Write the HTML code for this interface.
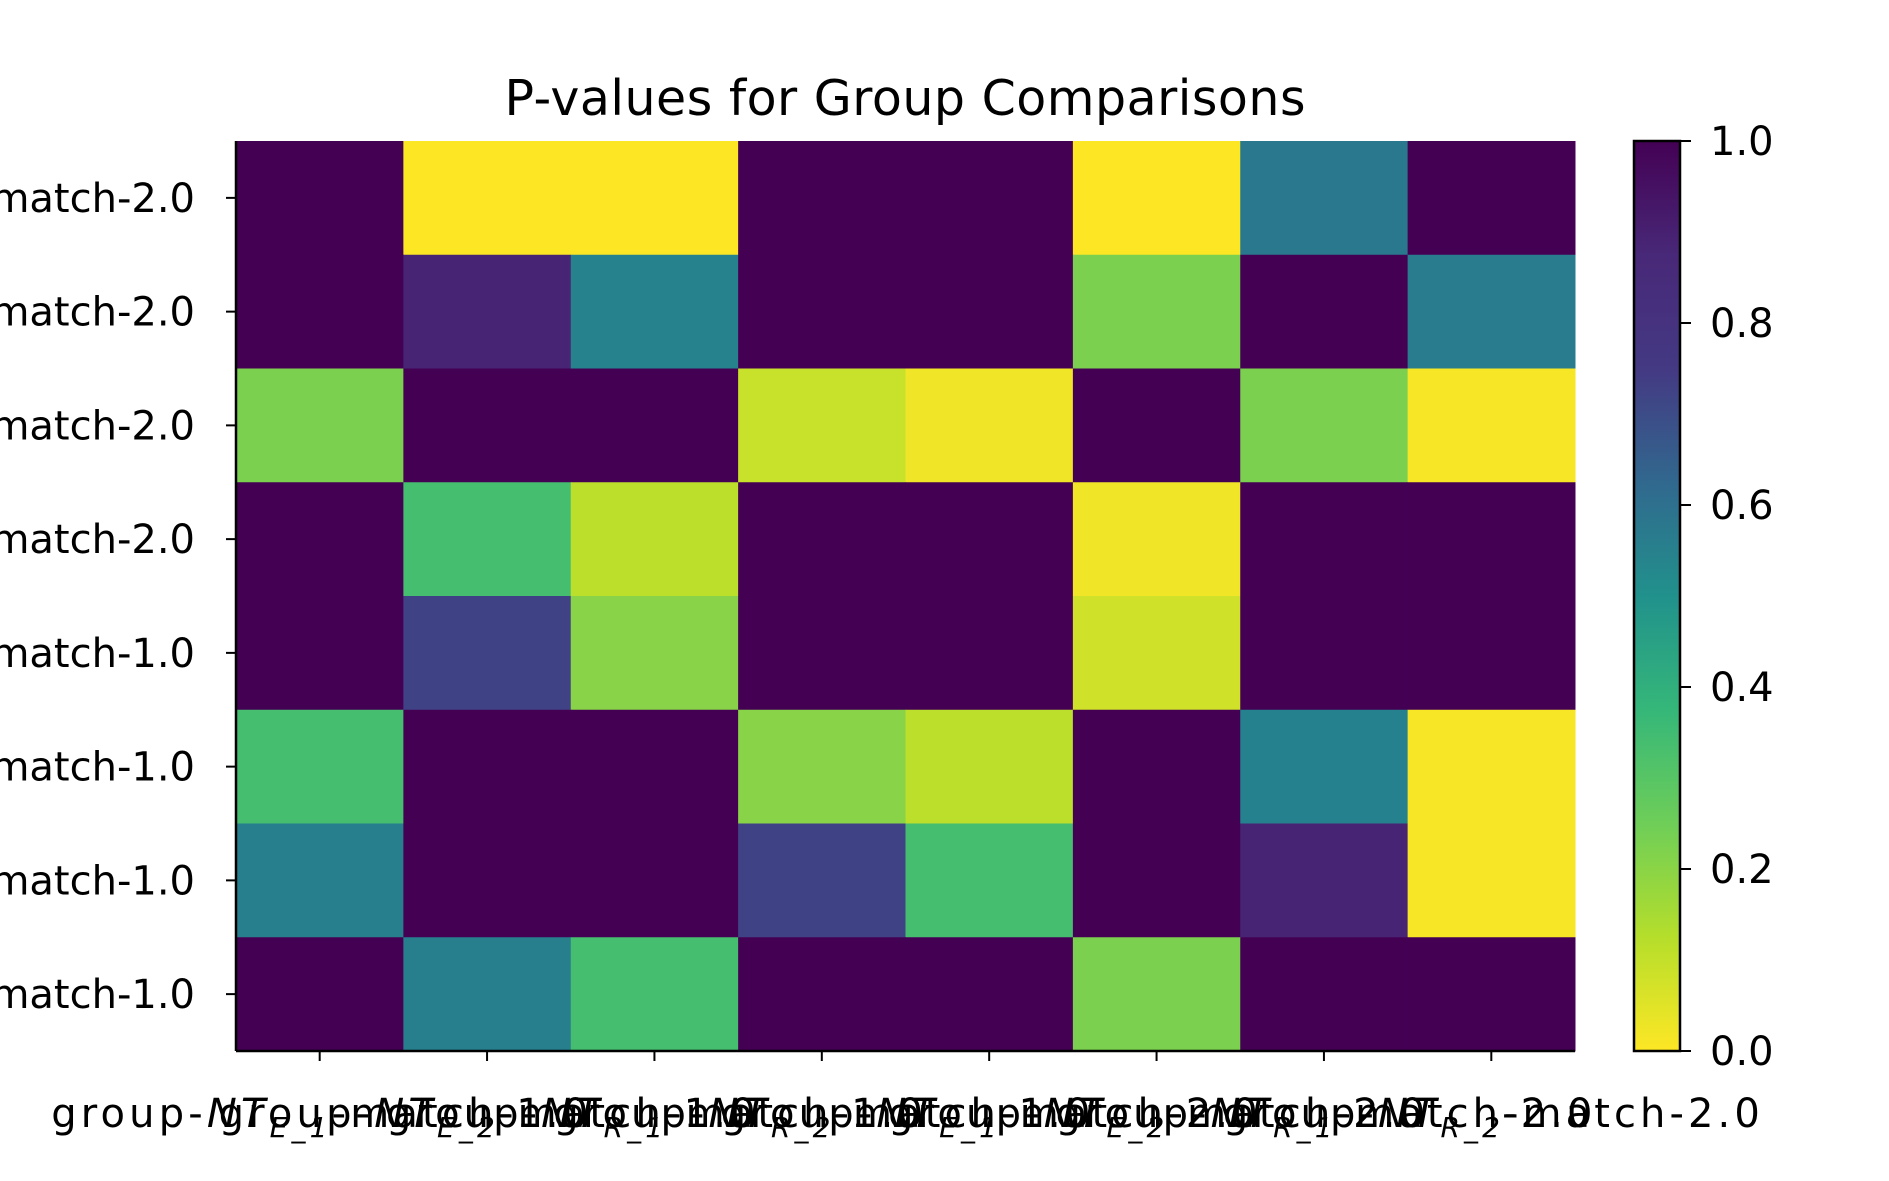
<!DOCTYPE html>
<html><head><meta charset="utf-8"><style>
html,body{margin:0;padding:0;background:#fff;}
svg{display:block;font-family:"DejaVu Sans","Liberation Sans",sans-serif;}
</style></head><body>
<svg id="chart" width="1889" height="1181" viewBox="0 0 1889 1181" xmlns="http://www.w3.org/2000/svg">
<defs>
<linearGradient id="vir" x1="0" y1="1" x2="0" y2="0">
<stop offset="0" stop-color="#fde725"/><stop offset="0.125" stop-color="#b5de2b"/><stop offset="0.25" stop-color="#6ece58"/><stop offset="0.375" stop-color="#35b779"/><stop offset="0.5" stop-color="#21918c"/><stop offset="0.625" stop-color="#31688e"/><stop offset="0.75" stop-color="#443983"/><stop offset="0.875" stop-color="#482878"/><stop offset="1" stop-color="#440154"/>
</linearGradient>
</defs>
<text x="905" y="115" font-size="49" text-anchor="middle" textLength="801">P-values for Group Comparisons</text>
<g id="cells"></g>
<g id="axes"></g>
<rect x="1634" y="141" width="46" height="910" fill="url(#vir)" stroke="#000" stroke-width="2.5"/>
<g id="cbticks"></g>
</svg>
<script>
const rowLabels = ["group-NT_R_2-match-2.0","group-NT_R_1-match-2.0","group-NT_E_2-match-2.0","group-NT_E_1-match-2.0","group-NT_R_2-match-1.0","group-NT_R_1-match-1.0","group-NT_E_2-match-1.0","group-NT_E_1-match-1.0"];
const colSubs = ["E_1","E_2","R_1","R_2","E_1","E_2","R_1","R_2"];
const colMatch = ["1.0","1.0","1.0","1.0","2.0","2.0","2.0","2.0"];
const row0 = [1, 0, 0, 1, 1, 0, 0.6, 1];
const row1 = [1, 0.9, 0.55, 1, 1, 0.2, 1, 0.58];
const row2 = [0.2, 1, 1, 0.08, 0.02, 1, 0.2, 0.01];
const row3 = [1, 0.3, 0.1, 1, 1, 0.02, 1, 1];
const row4 = [1, 0.8, 0.18, 1, 1, 0.07, 1, 1];
const row5 = [0.3, 1, 1, 0.18, 0.1, 1, 0.56, 0.01];
const row6 = [0.57, 1, 1, 0.8, 0.3, 1, 0.9, 0.01];
const row7 = [1, 0.57, 0.3, 1, 1, 0.2, 1, 1];
const values = [row0,row1,row2,row3,row4,row5,row6,row7];
const cbTicks = [0, 0.2, 0.4, 0.6, 0.8, 1.0];

const NS="http://www.w3.org/2000/svg";
const L=236,R=1575,T=141,B=1051;
const nC=8,nR=8;
const cw=(R-L)/nC, rh=(B-T)/nR;
const xPos=i=>L+i*cw;
const yPos=j=>T+j*rh;
const vstops=[[68,1,84],[72,40,120],[62,73,137],[49,104,142],[38,130,142],[31,158,137],[53,183,121],[109,205,89],[180,222,44],[253,231,37]];
function viridis(v){
  let t=(1-v)*(vstops.length-1); let i=Math.min(Math.floor(t),vstops.length-2); let f=t-i;
  const a=vstops[i],b=vstops[i+1];
  return `rgb(${a.map((c,k)=>Math.round(c+(b[k]-c)*f)).join(',')})`;
}
function mk(tag,attrs,parent){const e=document.createElementNS(NS,tag);for(const k in attrs)e.setAttribute(k,attrs[k]);parent.appendChild(e);return e;}
const cells=document.getElementById('cells');
values.forEach((row,j)=>row.forEach((v,i)=>{
  const r=mk('rect',{x:xPos(i),y:yPos(j),width:cw+0.5,height:rh+0.5,fill:viridis(v)},cells);
  
  
}));
const ax=document.getElementById('axes');
const la=mk('line',{x1:L,y1:T,x2:L,y2:B,stroke:'#000','stroke-width':2.5},ax);


const lb=mk('line',{x1:L,y1:B,x2:R,y2:B,stroke:'#000','stroke-width':2.5},ax);


rowLabels.forEach((lab,j)=>{
  const y=yPos(j)+rh/2;
  mk('line',{x1:L-10,y1:y,x2:L,y2:y,stroke:'#000','stroke-width':2},ax);
  const t=mk('text',{x:195,y:y+14,'font-size':40,'text-anchor':'end'},ax);
  t.textContent=lab.replace(/NT_(\w)_(\d)/,'NT$1$2');
  
  
});
colSubs.forEach((s,i)=>{
  const x=xPos(i)+cw/2;
  mk('line',{x1:x,y1:B,x2:x,y2:B+10,stroke:'#000','stroke-width':2},ax);
  const t=mk('text',{x:x,y:1127,'font-size':40,'text-anchor':'middle',textLength:537},ax);
  
  
  const a=mk('tspan',{},t);a.textContent='group-';
  const b=mk('tspan',{'font-style':'italic'},t);b.textContent='NT';
  const c=mk('tspan',{'font-style':'italic','font-size':28,dy:10},t);c.textContent=s;
  const d=mk('tspan',{dy:-10},t);d.textContent='-match-'+colMatch[i];
});
const cb=document.getElementById('cbticks');
cbTicks.forEach(v=>{
  const y=B-(B-T)*v;
  mk('line',{x1:1680,y1:y,x2:1691,y2:y,stroke:'#000','stroke-width':2},cb);
  const t=mk('text',{x:1710,y:y+14,'font-size':40},cb);
  t.textContent=v.toFixed(1);
  
  
});
</script>
</body></html>
